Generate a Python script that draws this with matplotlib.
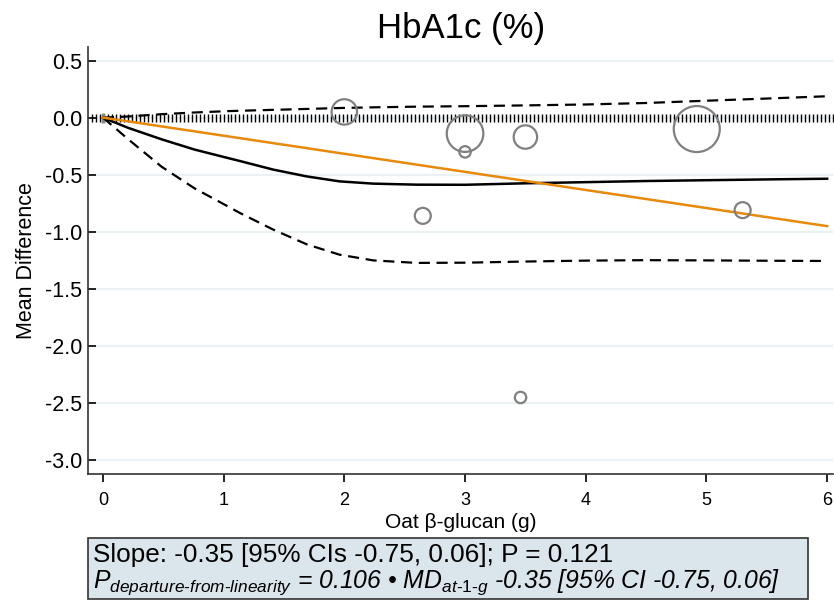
import numpy as np
import matplotlib
matplotlib.use("Agg")
import matplotlib.pyplot as plt

plt.rcParams['font.family'] = ['Liberation Sans', 'DejaVu Sans']
plt.rcParams['mathtext.fontset'] = 'custom'
plt.rcParams['mathtext.rm'] = 'Liberation Sans'
plt.rcParams['mathtext.it'] = 'Liberation Sans:italic'

# study points (dose, mean difference, relative weight)
study_dose = [2.0, 3.0, 3.0, 3.5, 2.65, 4.92, 5.30, 3.46]
study_md = [0.05, -0.14, -0.30, -0.17, -0.86, -0.10, -0.81, -2.45]
study_weight = [12.7, 18.3, 5.7, 11.7, 8.0, 23.0, 8.0, 5.7]

# spline fit and confidence band
curve_dose = [0.0, 0.21, 0.486, 0.76, 1.04, 1.135, 1.41, 1.69, 1.96, 2.24, 2.6,
              3.0, 3.5, 4.0, 4.5, 5.0, 5.5, 6.0]
curve_md = [0.0, -0.09, -0.19, -0.28, -0.355, -0.38, -0.455, -0.515, -0.558, -0.578, -0.587,
            -0.588, -0.575, -0.565, -0.555, -0.548, -0.541, -0.535]
curve_upper = [0.0, 0.01, 0.03, 0.045, 0.057, 0.06, 0.068, 0.076, 0.084, 0.09, 0.096,
               0.10, 0.107, 0.115, 0.128, 0.148, 0.167, 0.187]
curve_lower = [0.0, -0.19, -0.43, -0.62, -0.78, -0.835, -0.98, -1.11, -1.2, -1.25, -1.272,
               -1.27, -1.26, -1.252, -1.248, -1.25, -1.253, -1.255]

# linear fit
linear_dose = [0.0, 6.0]
linear_md = [0.0, -0.95]

xticks = [0, 1, 2, 3, 4, 5, 6]
yticks = [0.5, 0.0, -0.5, -1.0, -1.5, -2.0, -2.5, -3.0]

fig = plt.figure(figsize=(8.34, 6.0), dpi=100)
ax = fig.add_axes([0.1055, 0.21, 0.8935, 0.712])

for y in yticks:
    ax.axhline(y, color='#eaf0f4', lw=1.6, zorder=0)

# reference line at zero drawn as tick marks
ref_x = np.arange(-0.09, 6.06, 0.033)
ax.plot(ref_x, np.zeros_like(ref_x), ls='none', marker='|', ms=6, mew=1.0,
        color='black', zorder=2)
ax.plot([0], [0], ls='none', marker='|', ms=7, mew=2.5, color='#888888', zorder=2)

ax.plot(curve_dose, curve_upper, color='black', lw=1.6, ls=(0, (5, 3)), zorder=3)
ax.plot(curve_dose, curve_lower, color='black', lw=1.6, ls=(0, (5, 3)), zorder=3)
ax.plot(curve_dose, curve_md, color='black', lw=1.8, zorder=3)
ax.plot(linear_dose, linear_md, color='#e8890c', lw=1.8, zorder=4)

sizes = [(1.44 * w) ** 2 for w in study_weight]
ax.scatter(study_dose, study_md, s=sizes, facecolors='none', edgecolors='#808080',
           linewidths=1.6, zorder=5)

ax.set_xlim(-0.124, 6.05)
ax.set_ylim(-3.12, 0.62)
ax.set_xticks(xticks)
ax.set_yticks(yticks)
ax.set_yticklabels(['%.1f' % v for v in yticks])
ax.tick_params(axis='y', direction='in', length=6, width=1.2, labelsize=15.5, pad=4)
ax.tick_params(axis='x', direction='out', length=6, width=1.2, labelsize=13, pad=7)
for s in ['top', 'right']:
    ax.spines[s].set_visible(False)
for s in ['left', 'bottom']:
    ax.spines[s].set_color('#333333')
    ax.spines[s].set_linewidth(1.2)

ax.set_title('HbA1c (%)', fontsize=25, pad=6)
ax.set_xlabel('Oat β-glucan (g)', fontsize=15, labelpad=3)
ax.set_ylabel('Mean Difference', fontsize=15.5, labelpad=6)

box_line1 = 'Slope: -0.35 [95% CIs -0.75, 0.06]; P = 0.121'
box_line2 = (r'$P_{\mathit{departure\text{-}from\text{-}linearity}}$ = 0.106 • '
             r'MD$_{\mathit{at\text{-}1\text{-}g}}$ -0.35 [95% CI -0.75, 0.06]')

fig.patches.append(plt.Rectangle((88 / 834, 1 / 600), (808 - 88) / 834, (62 - 1) / 600,
                                 transform=fig.transFigure, facecolor='#dbe5ec',
                                 edgecolor='#333333', lw=1.2))
fig.text(93 / 834, 1 - 562 / 600, box_line1, fontsize=18.8, va='baseline')
fig.text(93 / 834, 1 - 588 / 600, box_line2, fontsize=17.8, va='baseline', style='italic')

fig.savefig('out.png', dpi=100)
